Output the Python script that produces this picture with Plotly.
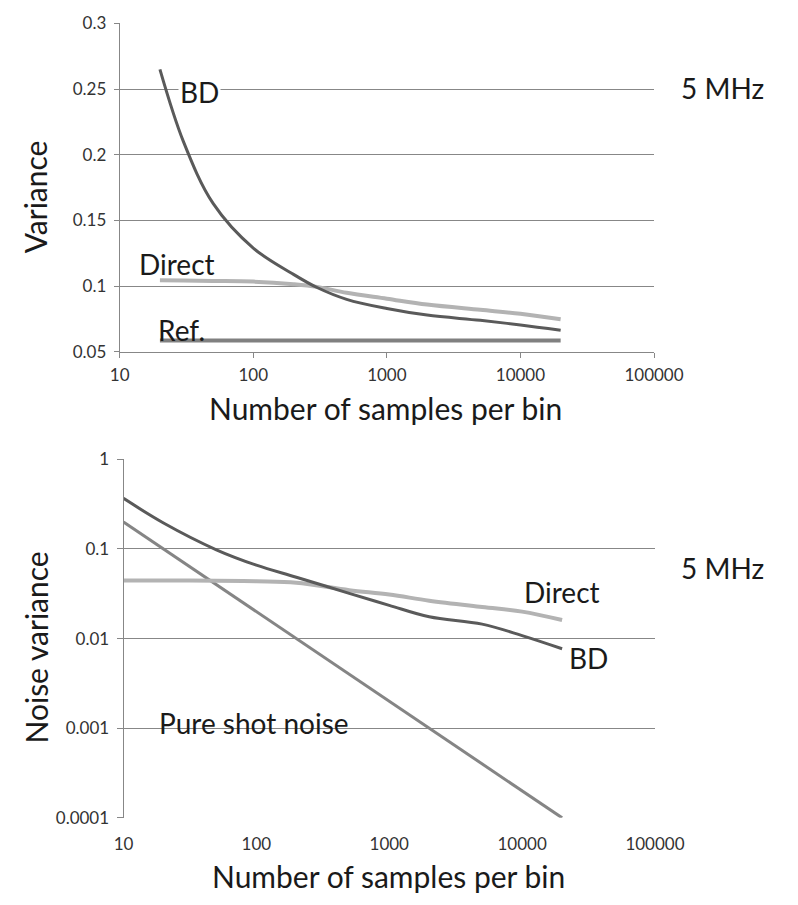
import plotly.graph_objects as go

# ---------------- data ----------------
top_n = [20, 30, 50, 100, 200, 300, 500, 1000, 2000, 5000, 10000, 20000]
top_bd = [0.265, 0.21, 0.163, 0.129, 0.109, 0.099, 0.090, 0.083, 0.078, 0.074, 0.0705, 0.0665]
top_direct = [0.1045, 0.1043, 0.104, 0.1035, 0.1015, 0.0995, 0.095, 0.0905, 0.086, 0.082, 0.079, 0.0748]
top_ref = [0.0587] * len(top_n)

bot_n = [10, 20, 50, 100, 200, 500, 1000, 2000, 5000, 10000, 20000]
bot_bd = [0.367, 0.195, 0.098, 0.066, 0.0484, 0.032, 0.0235, 0.0175, 0.0145, 0.0108, 0.0077]
bot_direct = [0.0446, 0.0445, 0.0443, 0.0435, 0.042, 0.0347, 0.031, 0.0265, 0.0225, 0.020, 0.0161]
bot_shot = [0.2, 0.1, 0.04, 0.02, 0.01, 0.004, 0.002, 0.001, 0.0004, 0.0002, 0.0001]

x_tickvals = [10, 100, 1000, 10000, 100000]
x_ticktext = ["10", "100", "1000", "10000", "100000"]
top_y_tickvals = [0.05, 0.1, 0.15, 0.2, 0.25, 0.3]
top_y_ticktext = ["0.05", "0.1", "0.15", "0.2", "0.25", "0.3"]
bot_y_tickvals = [0.0001, 0.001, 0.01, 0.1, 1]
bot_y_ticktext = ["0.0001", "0.001", "0.01", "0.1", "1"]

# ---------------- style ----------------
W, H = 798, 905
FONT = "Lato"
GRID = "#878787"
TXT = "#1a1a1a"
C_BD = "#5a5a5a"
C_DIRECT = "#b3b3b3"
C_REF = "#808080"
C_SHOT = "#858585"


def px(x):
    return x / W


def py(y):
    return 1 - y / H


fig = go.Figure()

# top panel
fig.add_trace(go.Scatter(x=top_n, y=top_ref, mode="lines", line=dict(color=C_REF, width=4),
                         xaxis="x", yaxis="y", showlegend=False))
fig.add_trace(go.Scatter(x=top_n, y=top_direct, mode="lines", line=dict(color=C_DIRECT, width=4, shape="spline"),
                         xaxis="x", yaxis="y", showlegend=False))
fig.add_trace(go.Scatter(x=top_n, y=top_bd, mode="lines", line=dict(color=C_BD, width=3, shape="spline"),
                         xaxis="x", yaxis="y", showlegend=False))

# bottom panel
fig.add_trace(go.Scatter(x=bot_n, y=bot_shot, mode="lines", line=dict(color=C_SHOT, width=3),
                         xaxis="x2", yaxis="y2", showlegend=False))
fig.add_trace(go.Scatter(x=bot_n, y=bot_direct, mode="lines", line=dict(color=C_DIRECT, width=4, shape="spline"),
                         xaxis="x2", yaxis="y2", showlegend=False))
fig.add_trace(go.Scatter(x=bot_n, y=bot_bd, mode="lines", line=dict(color=C_BD, width=3, shape="spline"),
                         xaxis="x2", yaxis="y2", showlegend=False))

tickfont = dict(family=FONT, size=17, color="#333333")

fig.update_layout(
    width=W, height=H,
    margin=dict(l=0, r=0, t=0, b=0),
    paper_bgcolor="white", plot_bgcolor="white",
    font=dict(family=FONT, color=TXT),
    xaxis=dict(type="log", range=[1, 5], domain=[px(115.5), px(678)], anchor="y",
               tickvals=x_tickvals, ticktext=x_ticktext, tickfont=tickfont,
               showgrid=False, zeroline=False, showline=True, linecolor=GRID, linewidth=1,
               ticks="outside", ticklen=5, tickcolor=GRID, ticklabelstandoff=3),
    yaxis=dict(range=[0.05, 0.3], domain=[py(349), py(12.7)], anchor="x",
               tickvals=top_y_tickvals, ticktext=top_y_ticktext, tickfont=tickfont,
               showgrid=True, gridcolor=GRID, gridwidth=1, zeroline=False,
               showline=True, linecolor=GRID, linewidth=1,
               ticks="outside", ticklen=5, tickcolor=GRID, ticklabelstandoff=4),
    xaxis2=dict(type="log", range=[1, 5], domain=[px(119.5), px(679)], anchor="y2",
                tickvals=x_tickvals, ticktext=x_ticktext, tickfont=tickfont,
                showgrid=False, zeroline=False, showline=False,
                ticks="", ticklabelstandoff=14),
    xaxis3=dict(type="log", range=[1, 5], domain=[px(119.5), px(679)], anchor="y2",
                overlaying="x2", side="top", tickvals=x_tickvals, showticklabels=False,
                showgrid=False, zeroline=False, showline=True, linecolor=GRID, linewidth=1,
                ticks="inside", ticklen=5, tickcolor=GRID),
    yaxis2=dict(type="log", range=[-4, 0], domain=[py(826), py(459)], anchor="x2",
                tickvals=bot_y_tickvals, ticktext=bot_y_ticktext, tickfont=tickfont,
                showgrid=True, gridcolor=GRID, gridwidth=1, zeroline=False,
                showline=True, linecolor=GRID, linewidth=1,
                ticks="outside", ticklen=6, tickcolor=GRID, ticklabelstandoff=4),
)

big = dict(family=FONT, size=28, color=TXT)
title_font = dict(family=FONT, size=30, color=TXT)


def ann(text, x, y, font, angle=0, bg=None):
    d = dict(text=text, x=px(x), y=py(y), xref="paper", yref="paper",
             showarrow=False, xanchor="center", yanchor="middle", font=font, textangle=angle)
    if bg:
        d["bgcolor"] = bg
    fig.add_annotation(**d)


# axis titles
ann("Variance", 26, 190, title_font, angle=-90)
ann("Number of samples per bin", 395, 406, title_font)
ann("Noise variance", 27, 652, title_font, angle=-90)
ann("Number of samples per bin", 398, 886, title_font)

# series labels
ann("BD", 200, 83, big, bg="white")
ann("Direct", 176, 259, big)
ann("Ref.", 181, 327, big)
ann("5 MHz", 750, 79, big)

ann("Direct", 581, 595, big)
ann("BD", 609, 662, big)
ann("Pure shot noise", 257, 729, big)
ann("5 MHz", 750, 570, big)

fig.write_html("out.html")
